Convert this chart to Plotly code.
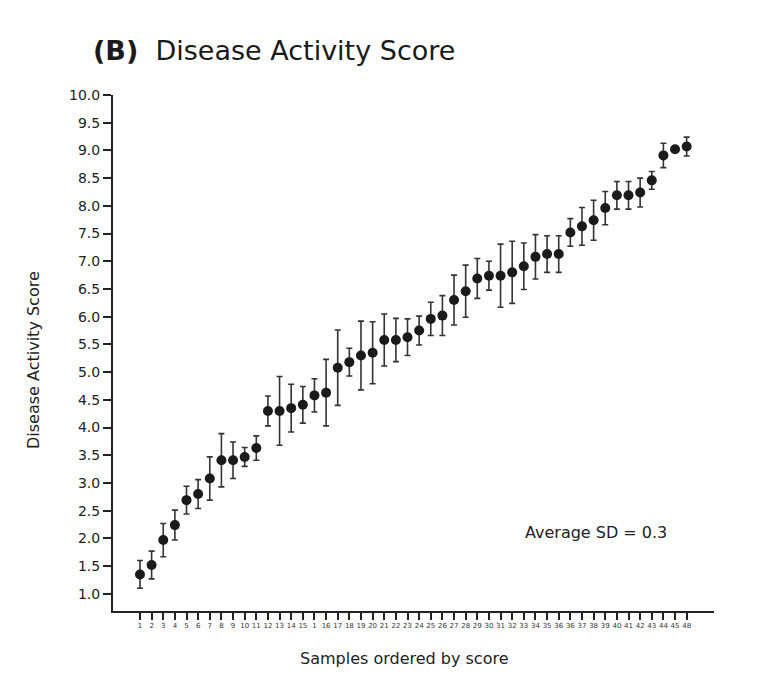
import plotly.graph_objects as go

tick_labels = ["1", "2", "3", "4", "5", "6", "7", "8", "9", "10", "11", "12", "13", "14", "15",
               "1", "16", "17", "18", "19", "20", "21", "22", "23", "24", "25", "26", "27", "28",
               "29", "30", "31", "32", "33", "34", "35", "36", "36", "37", "38", "39", "40", "41",
               "42", "43", "44", "45", "48"]
scores = [1.35, 1.52, 1.97, 2.24, 2.69, 2.80, 3.08, 3.41, 3.41, 3.47, 3.63, 4.30, 4.30, 4.35,
          4.41, 4.58, 4.63, 5.08, 5.18, 5.30, 5.35, 5.58, 5.58, 5.63, 5.75, 5.96, 6.02, 6.30,
          6.46, 6.69, 6.74, 6.74, 6.80, 6.91, 7.08, 7.13, 7.13, 7.52, 7.63, 7.74, 7.96, 8.19,
          8.19, 8.24, 8.46, 8.91, 9.02, 9.07]
sds = [0.25, 0.25, 0.30, 0.27, 0.25, 0.26, 0.39, 0.48, 0.33, 0.17, 0.22, 0.27, 0.62, 0.43,
       0.33, 0.30, 0.60, 0.68, 0.25, 0.62, 0.56, 0.47, 0.39, 0.33, 0.26, 0.30, 0.36, 0.45,
       0.47, 0.36, 0.26, 0.57, 0.56, 0.42, 0.40, 0.33, 0.33, 0.25, 0.34, 0.36, 0.30, 0.25,
       0.25, 0.26, 0.16, 0.22, 0.0, 0.17]
positions = list(range(len(scores)))
y_ticks = [1.0 + 0.5 * i for i in range(19)]

FONT = "DejaVu Sans"

fig = go.Figure()
fig.add_trace(go.Scatter(
    x=positions, y=scores, mode="markers",
    marker=dict(size=10, color="#1a1a1a"),
    error_y=dict(type="data", array=sds, visible=True, color="#333333",
                 thickness=1.6, width=3),
    showlegend=False,
))

fig.update_layout(
    width=780, height=678,
    margin=dict(l=113, r=66, t=95, b=67),
    paper_bgcolor="white", plot_bgcolor="white",
    font=dict(family=FONT, color="#222222"),
    title=dict(
        text="<b>(B)</b>&nbsp;&nbsp;Disease Activity Score",
        x=93 / 780, xanchor="left", xref="container",
        y=1 - 51 / 678, yanchor="middle", yref="container",
        font=dict(family=FONT, size=27, color="#1a1a1a"),
    ),
    xaxis=dict(
        range=[-2.32, 49.35], tickmode="array", tickvals=positions, ticktext=tick_labels,
        showgrid=False, zeroline=False, showline=True, linecolor="#222222", linewidth=2,
        ticks="outside", ticklen=7, tickwidth=2, tickcolor="#222222",
        tickfont=dict(family=FONT, size=7, color="#333333"), tickangle=0,
    ),
    yaxis=dict(
        range=[0.69, 10.0], tickmode="array", tickvals=y_ticks,
        ticktext=[f"{v:.1f}" for v in y_ticks],
        showgrid=False, zeroline=False, showline=True, linecolor="#222222", linewidth=2,
        ticks="outside", ticklen=8, tickwidth=2, tickcolor="#222222",
        tickfont=dict(family=FONT, size=14, color="#222222"),
    ),
    annotations=[
        dict(text="Samples ordered by score", xref="paper", yref="paper",
             x=(404 - 113) / 601, y=-(658 - 611) / 516, xanchor="center", yanchor="middle",
             showarrow=False, font=dict(family=FONT, size=16, color="#222222")),
        dict(text="Disease Activity Score", xref="paper", yref="paper",
             x=(33 - 113) / 601, y=(611 - 360) / 516, xanchor="center", yanchor="middle",
             textangle=-90, showarrow=False, font=dict(family=FONT, size=16, color="#222222")),
        dict(text="Average SD = 0.3", xref="paper", yref="paper",
             x=(596 - 113) / 601, y=(611 - 532) / 516, xanchor="center", yanchor="middle",
             showarrow=False, font=dict(family=FONT, size=16, color="#222222")),
    ],
)

fig.write_html("out.html")
